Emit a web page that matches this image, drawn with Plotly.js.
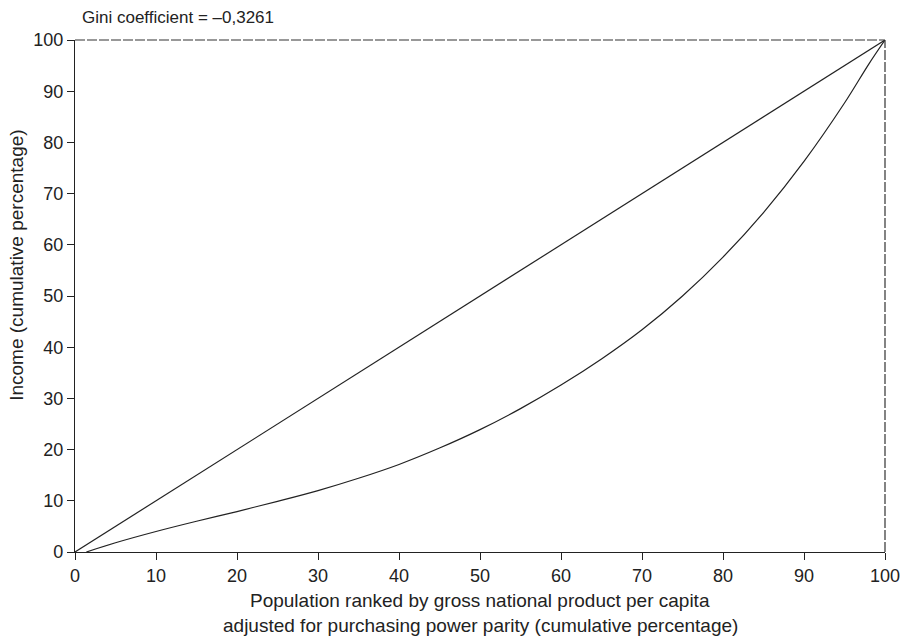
<!DOCTYPE html>
<html>
<head>
<meta charset="utf-8">
<script src="https://cdn.plot.ly/plotly-3.0.1.min.js"></script>
<style>html,body{margin:0;padding:0;background:#fff;}#chart{width:902px;height:640px;}</style>
</head>
<body>
<div id="chart"></div>
<script>
// Lorenz curve data (cumulative %)
const popShare = [1.4, 5, 10, 15, 20, 25, 30, 35, 40, 45, 50, 55, 60, 65, 70, 75, 80, 85, 90, 95, 98, 100];
const incomeShare = [0, 1.8, 4.0, 6.0, 7.9, 9.9, 12.0, 14.4, 17.1, 20.3, 23.9, 28.0, 32.6, 37.7, 43.4, 50.0, 57.6, 66.3, 76.3, 87.7, 95.3, 100];
const equalityX = [0, 100];
const equalityY = [0, 100];
const xTicks = [0, 10, 20, 30, 40, 50, 60, 70, 80, 90, 100];
const yTicks = [0, 10, 20, 30, 40, 50, 60, 70, 80, 90, 100];
const titleText = "Gini coefficient = \u20130,3261";
const xTitleLines = ["Population ranked by gross national product per capita", "adjusted for purchasing power parity (cumulative percentage)"];
const yTitle = "Income (cumulative percentage)";

const fam = "Liberation Sans, Arial, sans-serif";
const ink = "#222";
const tickFont = {family: fam, size: 18, color: ink};
const labFont = {family: fam, size: 19, color: ink};

const traces = [
  {x: equalityX, y: equalityY, mode: "lines", line: {color: ink, width: 1.2}, hoverinfo: "skip"},
  {x: popShare, y: incomeShare, mode: "lines", line: {color: ink, width: 1.2, shape: "spline", smoothing: 1}, hoverinfo: "skip"}
];

const layout = {
  width: 902, height: 640,
  margin: {l: 75, r: 17, t: 40, b: 88},
  paper_bgcolor: "#fff", plot_bgcolor: "#fff",
  showlegend: false,
  font: tickFont,
  xaxis: {
    range: [0, 100], tickvals: xTicks, ticktext: xTicks.map(String),
    ticks: "outside", ticklen: 7, tickcolor: ink, tickwidth: 1,
    showline: true, linecolor: ink, linewidth: 1.2,
    showgrid: false, zeroline: false, fixedrange: true,
    tickfont: tickFont
  },
  yaxis: {
    range: [0, 100], tickvals: yTicks, ticktext: yTicks.map(String),
    ticks: "outside", ticklen: 7, tickcolor: ink, tickwidth: 1,
    showline: true, linecolor: ink, linewidth: 1.2,
    showgrid: false, zeroline: false, fixedrange: true,
    tickfont: tickFont
  },
  shapes: [
    {type: "line", xref: "paper", yref: "paper", x0: 0, x1: 1, y0: 1, y1: 1, line: {color: "#333", width: 1.2, dash: "10px,2px"}},
    {type: "line", xref: "paper", yref: "paper", x0: 1, x1: 1, y0: 0, y1: 1, line: {color: "#333", width: 1.2, dash: "10px,2px"}}
  ],
  annotations: [
    {text: titleText, xref: "paper", yref: "paper", x: 0.006, y: 1.043, xanchor: "left", yanchor: "middle", showarrow: false, font: {family: fam, size: 17, color: ink}},
    {text: xTitleLines[0], xref: "paper", yref: "paper", x: 0.5, y: -0.094, xanchor: "center", yanchor: "middle", showarrow: false, font: labFont},
    {text: xTitleLines[1], xref: "paper", yref: "paper", x: 0.5, y: -0.143, xanchor: "center", yanchor: "middle", showarrow: false, font: labFont},
    {text: yTitle, xref: "paper", yref: "paper", x: -0.0716, y: 0.559, xanchor: "center", yanchor: "middle", textangle: -90, showarrow: false, font: labFont}
  ]
};

Plotly.newPlot("chart", traces, layout, {displayModeBar: false, staticPlot: true});
</script>
</body>
</html>
